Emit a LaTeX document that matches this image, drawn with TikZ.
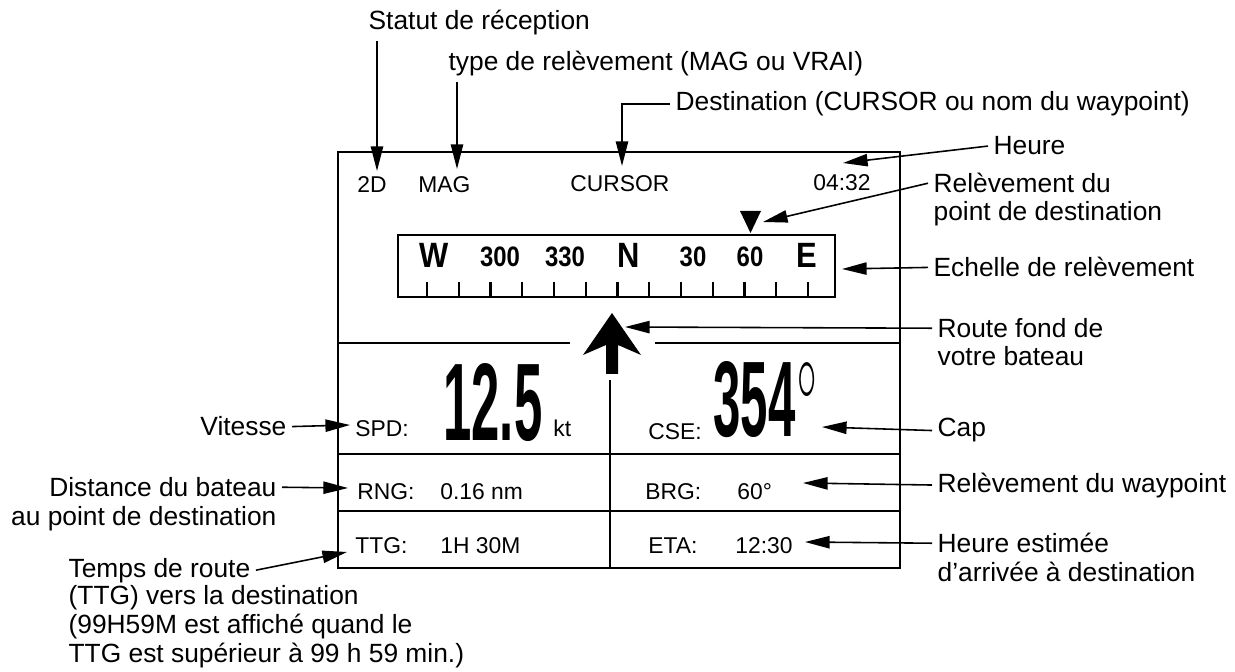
\documentclass[tikz,border=0pt]{standalone}
\usepackage{fontspec}
\setmainfont{Liberation Sans}
\usepackage{graphicx}
\usetikzlibrary{arrows.meta}

\begin{document}
\begin{tikzpicture}[
  x=0.02cm, y=-0.02cm,
  >={Triangle[length=14pt,width=7pt]},
  lbl/.style={font=\fontsize{15}{16.5}\selectfont, inner sep=3pt, anchor=base west},
  scr/.style={font=\fontsize{13}{15}\selectfont, inner sep=0pt, anchor=base west},
  dial/.style={font=\bfseries\fontsize{16}{16}\selectfont, inner sep=0pt, anchor=base},
  card/.style={font=\bfseries\fontsize{20}{20}\selectfont, inner sep=0pt, anchor=base},
  big/.style={font=\bfseries, inner sep=0pt, anchor=base west},
  lead/.style={->, line width=0.9pt},
]
\useasboundingbox (0,0) rectangle (1235,672);

%--- DISPLAY FRAME ---
\draw[line width=1.2pt] (338,152) rectangle (900,568);
\draw[line width=1pt] (338,343) -- (570,343) (655,343) -- (900,343);
\draw[line width=1pt] (338,454) -- (900,454) (338,511) -- (900,511);
\draw[line width=0.9pt] (610,380) -- (610,568);

%--- BEARING SCALE ---
\draw[line width=1.1pt] (398,235) rectangle (835,297);
\foreach \i in {0,...,12}
  \draw[line width=1.3pt] ({427+31.75*\i},282) -- ({427+31.75*\i},297);
\node[card] (sW) at (434,268) {\scalebox{0.88}[1]{W}};
\node[card] (sN) at (629,268) {\scalebox{0.88}[1]{N}};
\node[card] (sE) at (807,268) {\scalebox{0.88}[1]{E}};
\foreach \v/\x in {300/500,330/565,30/693,60/750}
  \node[dial] (s\v) at (\x,267) {\scalebox{0.85}[1]{\v}};
\fill (740,211) -- (761,211) -- (750.5,233) -- cycle; % destination mark

%--- COURSE ARROW ---
\fill (612,313) -- (641,355) -- (618,345) -- (618,374)
  -- (606,374) -- (606,345) -- (583,355) -- cycle;

%--- SCREEN TEXT ---
\node[scr] (s2d)  at (357,193) {2D};
\node[scr] (smag) at (418,193) {MAG};
\node[scr] (scur) at (570,192) {CURSOR};
\node[scr] (sclk) at (813,191) {04:32};

\node[scr] (sspd) at (355,437) {SPD:};
\node[big] (vspd) at (443,440) {\resizebox{1.98cm}{1.54cm}{12.5}};
\node[scr] (skt)  at (553,437) {kt};
\node[scr] (scse) at (648,439) {CSE:};
\node[big] (vcse) at (713,437) {\resizebox{1.64cm}{1.5cm}{354}};
\node[inner sep=0pt, anchor=south] (vdeg) at (807,402) {\scalebox{2.2}[5]{$\circ$}};

\node[scr] (srng) at (357,500) {RNG:};
\node[scr] (vrng) at (440,500) {0.16 nm};
\node[scr] (sbrg) at (645,500) {BRG:};
\node[scr] (vbrg) at (737,500) {60°};
\node[scr] (sttg) at (355,553) {TTG:};
\node[scr] (vttg) at (440,553) {1H 30M};
\node[scr] (seta) at (648,553) {ETA:};
\node[scr] (veta) at (735,553) {12:30};

%--- POINTED-AT SPOTS ---
\coordinate (m2d)  at (377,171);
\coordinate (mmag) at (457,169);
\coordinate (mcur) at (622,166);
\coordinate (mclk) at (843,163);
\coordinate (mtri) at (763,222);
\coordinate (mscl) at (842,269);
\coordinate (mhdg) at (625,327);
\coordinate (mcse) at (822,427);
\coordinate (mbrg) at (803,483);
\coordinate (meta) at (805,542);
\coordinate (mspd) at (350,425);
\coordinate (mrng) at (348,488);
\coordinate (mttg) at (347,552);

%--- CALLOUTS, TOP ---
\node[lbl] (sta) at (363,30)  {Statut de réception};
\node[lbl] (typ) at (443,71)  {type de relèvement (MAG ou VRAI)};
\node[lbl] (dst) at (670,111) {Destination (CURSOR ou nom du waypoint)};

%--- CALLOUTS, RIGHT ---
\node[lbl] (hre)  at (988,155) {Heure};
\node[lbl, align=left] (rdst) at (928,221) {Relèvement du\\point de destination};
\node[lbl] (ech)  at (928,277) {Echelle de relèvement};
\node[lbl, align=left] (rte)  at (932,366) {Route fond de\\votre bateau};
\node[lbl] (cap)  at (932,437) {Cap};
\node[lbl] (rwp)  at (932,492) {Relèvement du waypoint};
\node[lbl, align=left] (heta) at (932,581) {Heure estimée\\d'arrivée à destination};

%--- CALLOUTS, LEFT ---
\node[lbl, anchor=base east] (vit) at (292,436) {Vitesse};
\node[lbl, anchor=base east, align=right] (dist) at (282,525)
  {Distance du bateau\\au point de destination};
\node[lbl] (ttga) at (63,577) {Temps de route};
\node[lbl, align=left] (ttgb) at (63,662)
  {(TTG) vers la destination\\(99H59M est affiché quand le\\TTG est supérieur à 99 h 59 min.)};

%--- LEADERS ---
\draw[lead] (sta.south west -| m2d) -- (m2d);
\draw[lead] (typ.south west -| mmag) -- (mmag);
\draw[lead] (dst.west) -| (mcur);
\draw[lead] (hre.west) -- (mclk);
\draw[lead] ([yshift=21.5pt]rdst.base west) -- (mtri);
\draw[lead] (ech.west) -- (mscl);
\draw[lead] ([yshift=21.5pt]rte.base west) -- (mhdg);
\draw[lead] (cap.west) -- (mcse);
\draw[lead] (rwp.west) -- (mbrg);
\draw[lead] ([yshift=21.5pt]heta.base west) -- (meta);
\draw[lead] (vit.east) -- (mspd);
\draw[lead] ([yshift=21.5pt]dist.base east) -- (mrng);
\draw[lead] (ttga.east) -- (mttg);
\end{tikzpicture}
\end{document}
